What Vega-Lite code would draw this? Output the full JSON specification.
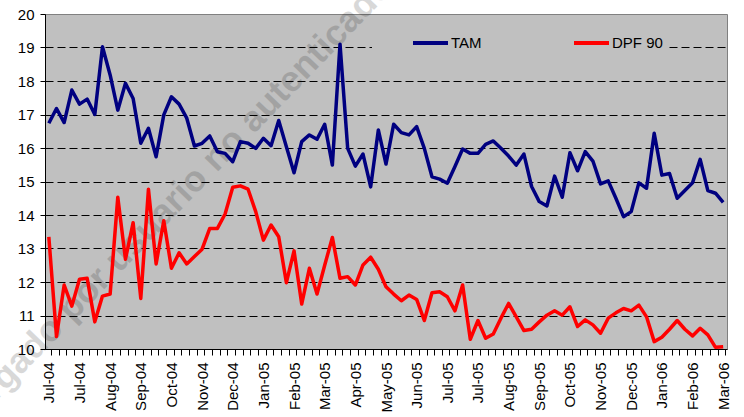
{
  "$schema": "https://vega.github.io/schema/vega-lite/v6.json",
  "width": 682,
  "height": 335,
  "autosize": {"type": "none"},
  "padding": {"left": 45, "top": 14, "right": 17, "bottom": 68},
  "background": "white",
  "config": {
    "font": "Liberation Sans",
    "view": {"fill": "#C0C0C0", "stroke": "#808080", "strokeWidth": 1},
    "axisY": {"title": null, "values": [10, 11, 12, 13, 14, 15, 16, 17, 18, 19, 20], "tickSize": 5, "tickColor": "black",
              "domainColor": "black", "labelFontSize": 15, "labelColor": "black", "labelPadding": 6, "labelOverlap": false,
              "grid": true, "gridColor": {"condition": {"test": "datum.value === 20", "value": "#808080"}, "value": "black"},
              "gridDash": [8, 4], "gridWidth": 1}
  },
  "data": {"values": [
    {"date": "2004-07-02T00:00", "TAM": 16.74, "DPF 90": 13.35},
    {"date": "2004-07-09T00:00", "TAM": 17.18, "DPF 90": 10.37},
    {"date": "2004-07-16T00:00", "TAM": 16.76, "DPF 90": 11.91},
    {"date": "2004-07-23T00:00", "TAM": 17.73, "DPF 90": 11.28},
    {"date": "2004-07-30T00:00", "TAM": 17.31, "DPF 90": 12.08},
    {"date": "2004-08-06T00:00", "TAM": 17.46, "DPF 90": 12.11},
    {"date": "2004-08-13T00:00", "TAM": 17.00, "DPF 90": 10.81},
    {"date": "2004-08-20T00:00", "TAM": 19.02, "DPF 90": 11.58},
    {"date": "2004-08-27T00:00", "TAM": 18.18, "DPF 90": 11.64},
    {"date": "2004-09-03T00:00", "TAM": 17.13, "DPF 90": 14.53},
    {"date": "2004-09-10T00:00", "TAM": 17.93, "DPF 90": 12.68},
    {"date": "2004-09-17T00:00", "TAM": 17.48, "DPF 90": 13.77},
    {"date": "2004-09-24T00:00", "TAM": 16.14, "DPF 90": 11.51},
    {"date": "2004-10-01T00:00", "TAM": 16.59, "DPF 90": 14.77},
    {"date": "2004-10-08T00:00", "TAM": 15.74, "DPF 90": 12.54},
    {"date": "2004-10-15T00:00", "TAM": 16.99, "DPF 90": 13.83},
    {"date": "2004-10-22T00:00", "TAM": 17.53, "DPF 90": 12.41},
    {"date": "2004-10-29T00:00", "TAM": 17.31, "DPF 90": 12.87},
    {"date": "2004-11-05T00:00", "TAM": 16.89, "DPF 90": 12.54},
    {"date": "2004-11-12T00:00", "TAM": 16.06, "DPF 90": 12.76},
    {"date": "2004-11-19T00:00", "TAM": 16.14, "DPF 90": 12.98},
    {"date": "2004-11-26T00:00", "TAM": 16.36, "DPF 90": 13.60},
    {"date": "2004-12-03T00:00", "TAM": 15.89, "DPF 90": 13.60},
    {"date": "2004-12-10T00:00", "TAM": 15.84, "DPF 90": 14.03},
    {"date": "2004-12-17T00:00", "TAM": 15.59, "DPF 90": 14.83},
    {"date": "2004-12-24T00:00", "TAM": 16.19, "DPF 90": 14.87},
    {"date": "2004-12-31T00:00", "TAM": 16.14, "DPF 90": 14.77},
    {"date": "2005-01-07T00:00", "TAM": 15.99, "DPF 90": 14.10},
    {"date": "2005-01-14T00:00", "TAM": 16.29, "DPF 90": 13.25},
    {"date": "2005-01-21T00:00", "TAM": 16.07, "DPF 90": 13.70},
    {"date": "2005-01-28T00:00", "TAM": 16.82, "DPF 90": 13.35},
    {"date": "2005-02-04T00:00", "TAM": 16.04, "DPF 90": 11.98},
    {"date": "2005-02-11T00:00", "TAM": 15.26, "DPF 90": 12.93},
    {"date": "2005-02-18T00:00", "TAM": 16.19, "DPF 90": 11.34},
    {"date": "2005-02-25T00:00", "TAM": 16.39, "DPF 90": 12.41},
    {"date": "2005-03-04T00:00", "TAM": 16.26, "DPF 90": 11.64},
    {"date": "2005-03-11T00:00", "TAM": 16.71, "DPF 90": 12.50},
    {"date": "2005-03-18T00:00", "TAM": 15.49, "DPF 90": 13.33},
    {"date": "2005-03-25T00:00", "TAM": 19.10, "DPF 90": 12.11},
    {"date": "2005-04-01T00:00", "TAM": 15.99, "DPF 90": 12.16},
    {"date": "2005-04-08T00:00", "TAM": 15.46, "DPF 90": 11.91},
    {"date": "2005-04-15T00:00", "TAM": 15.82, "DPF 90": 12.51},
    {"date": "2005-04-22T00:00", "TAM": 14.84, "DPF 90": 12.74},
    {"date": "2005-04-29T00:00", "TAM": 16.54, "DPF 90": 12.38},
    {"date": "2005-05-06T00:00", "TAM": 15.52, "DPF 90": 11.86},
    {"date": "2005-05-13T00:00", "TAM": 16.71, "DPF 90": 11.64},
    {"date": "2005-05-20T00:00", "TAM": 16.46, "DPF 90": 11.44},
    {"date": "2005-05-27T00:00", "TAM": 16.39, "DPF 90": 11.61},
    {"date": "2005-06-03T00:00", "TAM": 16.64, "DPF 90": 11.48},
    {"date": "2005-06-10T00:00", "TAM": 15.99, "DPF 90": 10.85},
    {"date": "2005-06-17T00:00", "TAM": 15.14, "DPF 90": 11.68},
    {"date": "2005-06-24T00:00", "TAM": 15.07, "DPF 90": 11.71},
    {"date": "2005-07-01T00:00", "TAM": 14.95, "DPF 90": 11.56},
    {"date": "2005-07-08T00:00", "TAM": 15.45, "DPF 90": 11.14},
    {"date": "2005-07-15T00:00", "TAM": 15.97, "DPF 90": 11.91},
    {"date": "2005-07-22T00:00", "TAM": 15.84, "DPF 90": 10.29},
    {"date": "2005-07-29T00:00", "TAM": 15.84, "DPF 90": 10.85},
    {"date": "2005-08-05T00:00", "TAM": 16.11, "DPF 90": 10.32},
    {"date": "2005-08-12T00:00", "TAM": 16.21, "DPF 90": 10.45},
    {"date": "2005-08-19T00:00", "TAM": 15.99, "DPF 90": 10.92},
    {"date": "2005-08-26T00:00", "TAM": 15.76, "DPF 90": 11.36},
    {"date": "2005-09-02T00:00", "TAM": 15.49, "DPF 90": 10.96},
    {"date": "2005-09-09T00:00", "TAM": 15.82, "DPF 90": 10.55},
    {"date": "2005-09-16T00:00", "TAM": 14.85, "DPF 90": 10.59},
    {"date": "2005-09-23T00:00", "TAM": 14.40, "DPF 90": 10.81},
    {"date": "2005-09-30T00:00", "TAM": 14.27, "DPF 90": 11.01},
    {"date": "2005-10-07T00:00", "TAM": 15.16, "DPF 90": 11.14},
    {"date": "2005-10-14T00:00", "TAM": 14.53, "DPF 90": 11.01},
    {"date": "2005-10-21T00:00", "TAM": 15.86, "DPF 90": 11.26},
    {"date": "2005-10-28T00:00", "TAM": 15.32, "DPF 90": 10.67},
    {"date": "2005-11-04T00:00", "TAM": 15.89, "DPF 90": 10.87},
    {"date": "2005-11-11T00:00", "TAM": 15.61, "DPF 90": 10.72},
    {"date": "2005-11-18T00:00", "TAM": 14.93, "DPF 90": 10.47},
    {"date": "2005-11-25T00:00", "TAM": 15.02, "DPF 90": 10.92},
    {"date": "2005-12-02T00:00", "TAM": 14.50, "DPF 90": 11.08},
    {"date": "2005-12-09T00:00", "TAM": 13.95, "DPF 90": 11.21},
    {"date": "2005-12-16T00:00", "TAM": 14.10, "DPF 90": 11.14},
    {"date": "2005-12-23T00:00", "TAM": 14.96, "DPF 90": 11.31},
    {"date": "2005-12-30T00:00", "TAM": 14.80, "DPF 90": 10.96},
    {"date": "2006-01-06T00:00", "TAM": 16.44, "DPF 90": 10.22},
    {"date": "2006-01-13T00:00", "TAM": 15.19, "DPF 90": 10.35},
    {"date": "2006-01-20T00:00", "TAM": 15.24, "DPF 90": 10.59},
    {"date": "2006-01-27T00:00", "TAM": 14.50, "DPF 90": 10.85},
    {"date": "2006-02-03T00:00", "TAM": 14.73, "DPF 90": 10.59},
    {"date": "2006-02-10T00:00", "TAM": 14.96, "DPF 90": 10.39},
    {"date": "2006-02-17T00:00", "TAM": 15.66, "DPF 90": 10.62},
    {"date": "2006-02-24T00:00", "TAM": 14.73, "DPF 90": 10.42},
    {"date": "2006-03-03T00:00", "TAM": 14.65, "DPF 90": 10.05},
    {"date": "2006-03-10T00:00", "TAM": 14.38, "DPF 90": 10.07}
  ]},
  "transform": [{"fold": ["TAM", "DPF 90"], "as": ["series", "value"]}],
  "resolve": {"axis": {"x": "independent"}},
  "layer": [
    {
      "data": {"values": [{}]},
      "mark": {"type": "text", "text": "descargado por usuario no autenticado", "angle": -46, "align": "left", "baseline": "alphabetic", "fontSize": 36, "fontWeight": "bold", "fill": "black", "opacity": 0.15, "clip": false},
      "encoding": {
        "x": {"datum": {"year": 2004, "month": 3, "date": 10, "hours": 12}, "type": "temporal", "axis": null,
              "scale": {"domain": [{"year": 2004, "month": 6, "date": 28, "hours": 12}, {"year": 2006, "month": 3, "date": 13, "hours": 12}]}},
        "y": {"datum": 6.23, "type": "quantitative", "scale": {"domain": [10, 20], "nice": false, "zero": false}}
      }
    },
    {
      "transform": [{"filter": "datum.series === 'TAM'"}],
      "mark": {"type": "line", "strokeWidth": 3.5, "strokeJoin": "round"},
      "encoding": {
        "x": {"field": "date", "type": "temporal",
              "scale": {"domain": [{"year": 2004, "month": 6, "date": 28, "hours": 12}, {"year": 2006, "month": 3, "date": 13, "hours": 12}]},
              "axis": {"orient": "bottom", "title": null, "grid": false, "ticks": false, "tickSize": 0, "domain": true, "domainColor": "black",
                       "labelAngle": -90, "labelAlign": "right", "labelBaseline": "middle", "labelPadding": 13, "labelFontSize": 15, "labelColor": "black",
                       "labelOverlap": false, "labelFlush": false, "labelBound": false, "format": "%b-%y",
                       "values": [
                         {"year": 2004, "month": 7, "date": 2}, {"year": 2004, "month": 7, "date": 30}, {"year": 2004, "month": 8, "date": 27},
                         {"year": 2004, "month": 9, "date": 24}, {"year": 2004, "month": 10, "date": 22}, {"year": 2004, "month": 11, "date": 19},
                         {"year": 2004, "month": 12, "date": 17}, {"year": 2005, "month": 1, "date": 14}, {"year": 2005, "month": 2, "date": 11},
                         {"year": 2005, "month": 3, "date": 11}, {"year": 2005, "month": 4, "date": 8}, {"year": 2005, "month": 5, "date": 6},
                         {"year": 2005, "month": 6, "date": 3}, {"year": 2005, "month": 7, "date": 1}, {"year": 2005, "month": 7, "date": 29},
                         {"year": 2005, "month": 8, "date": 26}, {"year": 2005, "month": 9, "date": 23}, {"year": 2005, "month": 10, "date": 21},
                         {"year": 2005, "month": 11, "date": 18}, {"year": 2005, "month": 12, "date": 16}, {"year": 2006, "month": 1, "date": 13},
                         {"year": 2006, "month": 2, "date": 10}, {"year": 2006, "month": 3, "date": 10}
                       ]}},
        "y": {"field": "value", "type": "quantitative", "scale": {"domain": [10, 20], "nice": false, "zero": false}},
        "color": {"field": "series", "type": "nominal",
                  "scale": {"domain": ["TAM", "DPF 90"], "range": ["#000080", "#FF0000"]},
                  "legend": {"orient": "none", "legendX": 327, "legendY": 16, "direction": "horizontal",
                             "title": " ", "titleOrient": "left", "titlePadding": 34, "titleFontSize": 15,
                             "symbolType": "stroke", "symbolSize": 1225, "symbolStrokeWidth": 4, "clipHeight": 16,
                             "labelFontSize": 15, "labelColor": "black", "fillColor": "#C0C0C0", "padding": 5,
                             "labelOffset": 1, "columnPadding": 90}}
      }
    },
    {
      "transform": [{"filter": "datum.series === 'DPF 90'"}],
      "mark": {"type": "line", "strokeWidth": 3.5, "strokeJoin": "round"},
      "encoding": {
        "x": {"field": "date", "type": "temporal",
              "scale": {"domain": [{"year": 2004, "month": 6, "date": 28, "hours": 12}, {"year": 2006, "month": 3, "date": 13, "hours": 12}]},
              "axis": {"orient": "bottom", "title": null, "grid": false, "labels": false, "ticks": true, "tickSize": 6, "tickColor": "black",
                       "domain": false, "tickCount": {"interval": "week", "step": 1}}},
        "y": {"field": "value", "type": "quantitative", "scale": {"domain": [10, 20], "nice": false, "zero": false}},
        "color": {"field": "series", "type": "nominal",
                  "scale": {"domain": ["TAM", "DPF 90"], "range": ["#000080", "#FF0000"]},
                  "legend": {"orient": "none", "legendX": 327, "legendY": 16, "direction": "horizontal",
                             "title": " ", "titleOrient": "left", "titlePadding": 34, "titleFontSize": 15,
                             "symbolType": "stroke", "symbolSize": 1225, "symbolStrokeWidth": 4, "clipHeight": 16,
                             "labelFontSize": 15, "labelColor": "black", "fillColor": "#C0C0C0", "padding": 5,
                             "labelOffset": 1, "columnPadding": 90}}
      }
    }
  ]
}
